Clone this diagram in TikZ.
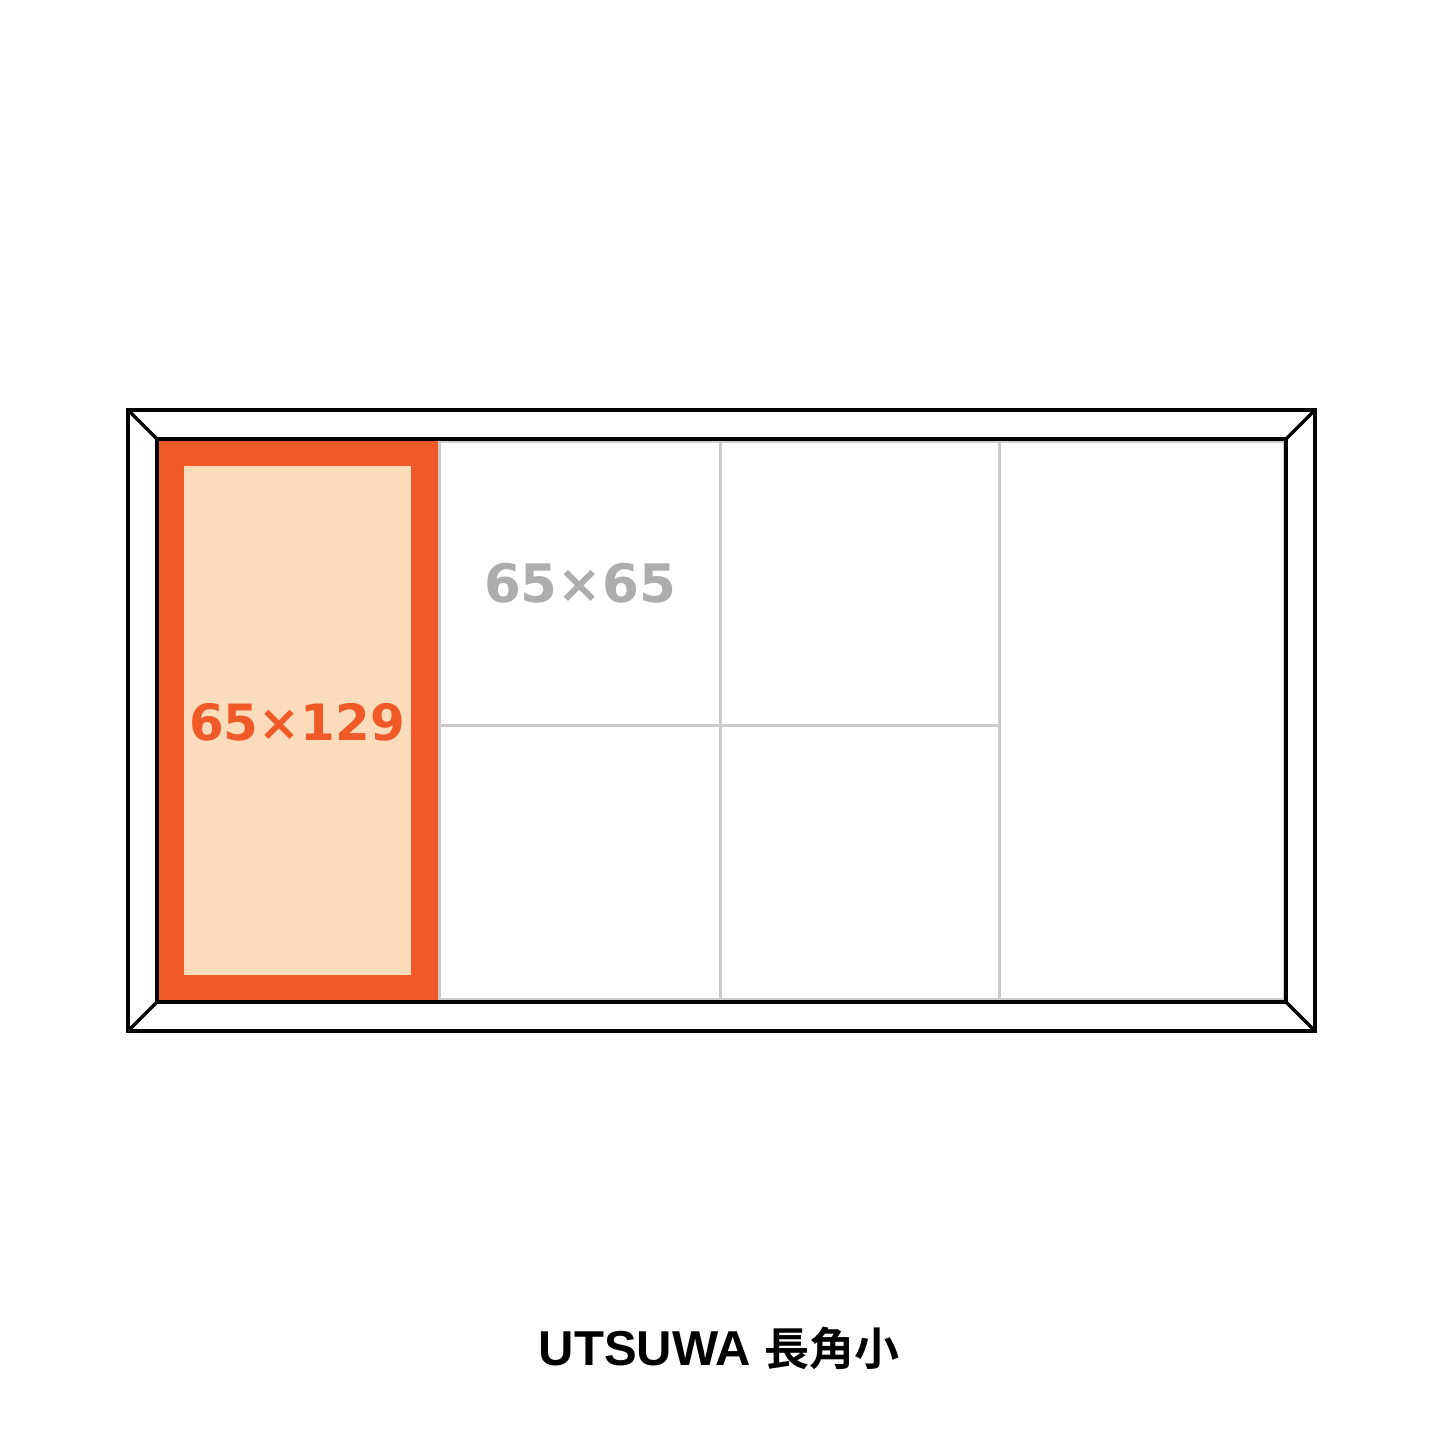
\documentclass[tikz,border=0pt]{standalone}
\usepackage{fontspec}
\setmainfont{Liberation Sans}
\newfontfamily\cjkb{Noto Sans CJK JP Bold}
\newfontfamily\latb{Liberation Sans Bold}
\newfontfamily\numb{DejaVu Sans Bold}
\definecolor{oframe}{HTML}{F05A28}
\definecolor{peach}{HTML}{FDDCBC}
\definecolor{gridgray}{HTML}{CCCCCC}
\definecolor{labelgray}{HTML}{ADADAD}
\begin{document}
\begin{tikzpicture}[x=1pt,y=-1pt,
  frameline/.style={draw=black,line width=3.5pt,line join=miter},
  gridline/.style={draw=gridgray,line width=3pt},
  numlabel/.style={inner sep=0pt,anchor=base},
  titlelabel/.style={inner sep=0pt,anchor=base,text=black}]
\useasboundingbox (0,0) rectangle (1445,1445);
\fill[white] (0,0) rectangle (1445,1445);
% grid cells
\draw[gridline] (439,441) rectangle (1284,999);
\draw[gridline] (720,441) -- (720,999);
\draw[gridline] (999,441) -- (999,999);
\draw[gridline] (439,725) -- (999,725);
% orange block
\fill[oframe] (157,438) rectangle (438,1002);
\fill[peach] (184,466) rectangle (411,975);
% frame
\draw[frameline] (128,410) rectangle (1315,1031);
\draw[frameline] (157,439) rectangle (1286,1002);
\draw[frameline] (128,410) -- (157,439);
\draw[frameline] (1315,410) -- (1286,439);
\draw[frameline] (128,1031) -- (157,1002);
\draw[frameline] (1315,1031) -- (1286,1002);
% labels
\node[numlabel,text=oframe,font=\numb\fontsize{50}{50}\selectfont] (big) at (297,740) {65×129};
\node[numlabel,text=labelgray,font=\numb\fontsize{53}{53}\selectfont] (small) at (580,602) {65×65};
\node[titlelabel] (title) at (719,1365) {{\latb\fontsize{49}{49}\selectfont UTSUWA}\hspace{13pt}{\cjkb\fontsize{45}{45}\selectfont 長角小}};
\end{tikzpicture}
\end{document}
